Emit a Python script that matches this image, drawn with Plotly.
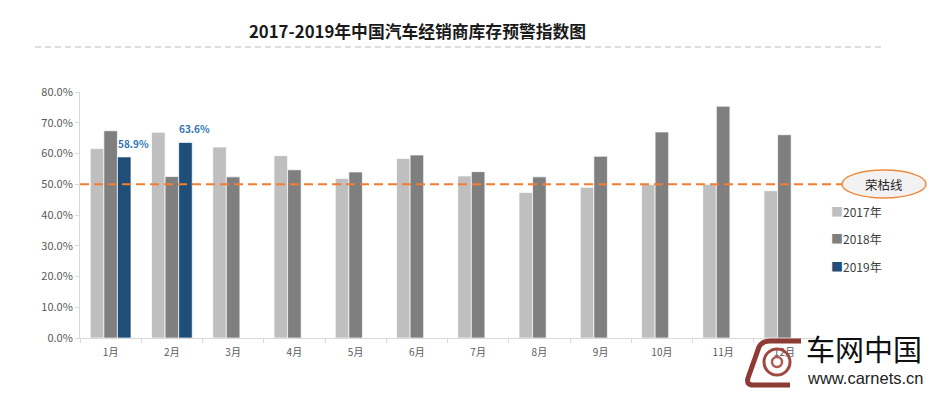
import plotly.graph_objects as go

months = ["1月", "2月", "3月", "4月", "5月", "6月", "7月", "8月", "9月", "10月", "11月", "12月"]
v2017 = [0.616, 0.669, 0.621, 0.593, 0.519, 0.584, 0.527, 0.473, 0.490, 0.499, 0.499, 0.479]
v2018 = [0.674, 0.525, 0.524, 0.547, 0.540, 0.595, 0.541, 0.524, 0.591, 0.670, 0.754, 0.661]
v2019 = [0.589, 0.636, None, None, None, None, None, None, None, None, None, None]
series_names = ["2017年", "2018年", "2019年"]
colors = ["#BFBFBF", "#7F7F7F", "#1F4E79"]
threshold = 0.5
threshold_label = "荣枯线"
title = "2017-2019年中国汽车经销商库存预警指数图"

FONT = "Noto Sans CJK SC, Microsoft YaHei, sans-serif"

# page body has an 8px margin; plot area on screen: x 80..815, y 92..338
W, H = 937, 393
OFF = 8
L, R, T, B = 80, 815, 92, 338


def px(x):
    return (x - L) / (R - L)


def py(y):
    return (B - y) / (B - T)


fig = go.Figure()
for i, (name, vals) in enumerate(zip(series_names, [v2017, v2018, v2019])):
    fig.add_trace(go.Bar(
        x=months, y=vals, name=name, showlegend=False,
        marker=dict(color=colors[i], line=dict(color="rgba(255,255,255,0.7)", width=1)),
    ))

# data labels for 2019
for m, v in zip(months, v2019):
    if v is not None:
        fig.add_annotation(x=m, y=v, xref="x", yref="y", text=f"<b>{v*100:.1f}%</b>", showarrow=False,
                           xanchor="center", yanchor="bottom", xshift=23, yshift=4,
                           font=dict(family=FONT, size=10, color="#2E75B6"))

fig.update_layout(
    width=W, height=H,
    margin=dict(l=L - OFF, r=W - R + OFF, t=T - OFF, b=H - B + OFF, autoexpand=False),
    paper_bgcolor="white", plot_bgcolor="white",
    barmode="group", bargap=0.335, bargroupgap=0,
    font=dict(family=FONT, size=11, color="#595959"),
    title=dict(text="<b>" + title + "</b>", x=(417.5 - OFF) / W, xanchor="center", y=1 - (32 - OFF) / H,
               yanchor="middle", font=dict(family=FONT, size=16.8, color="#1a1a1a")),
    showlegend=False,
)
fig.update_xaxes(showline=True, linecolor="#D9D9D9", linewidth=1, ticks="outside", tickson="boundaries",
                 tickcolor="#D9D9D9", ticklen=4, showgrid=False, ticklabelstandoff=5,
                 tickfont=dict(family=FONT, size=10, color="#595959"))
fig.update_yaxes(range=[0, 0.8], dtick=0.1, tickformat=".1%", showline=True, linecolor="#D9D9D9", linewidth=1,
                 ticks="outside", tickcolor="#D9D9D9", ticklen=4, showgrid=False, zeroline=False,
                 tickfont=dict(family=FONT, size=11, color="#595959"))

# threshold dashed line
fig.add_shape(type="line", xref="paper", yref="y", x0=0, x1=px(844), y0=threshold, y1=threshold,
              line=dict(color="#F47D30", width=2, dash="9px,5px"), layer="above")
# ellipse label
fig.add_shape(type="circle", xref="paper", yref="paper", x0=px(842), x1=px(926), y0=py(198), y1=py(170),
              line=dict(color="#F08A3C", width=1.5), fillcolor="#F2F2F2", layer="above")
fig.add_annotation(text=threshold_label, xref="paper", yref="y", x=px(884), y=threshold, showarrow=False,
                   xanchor="center", yanchor="middle",
                   font=dict(family=FONT, size=12.5, color="#262626"))
# title underline
fig.add_shape(type="line", xref="paper", yref="paper", x0=px(35), x1=px(885), y0=py(47), y1=py(47),
              line=dict(color="#BFBFBF", width=1.2, dash="6px,4px"))

# manual legend
for i, name in enumerate(series_names):
    yy = py(211 + i * 27.5)
    fig.add_annotation(text=f"<span style='color:{colors[i]}'>■</span>{name}", xref="paper", yref="paper",
                       x=px(829), y=yy, xanchor="left", yanchor="middle", showarrow=False,
                       font=dict(family=FONT, size=12, color="#404040"))

# watermark
fig.add_annotation(text="车网中国", xref="paper", yref="paper", x=px(805), y=py(348), xanchor="left",
                   yanchor="middle", showarrow=False, borderpad=0,
                   font=dict(family=FONT, size=29, color="#111111"))
fig.add_annotation(text="www.carnets.cn", xref="paper", yref="paper", x=px(806), y=py(378), xanchor="left",
                   yanchor="middle", showarrow=False, borderpad=0,
                   font=dict(family="Liberation Sans, Arial", size=16.5, color="#222222"))
# logo approximation
fig.add_shape(type="path", xref="paper", yref="paper",
              path=(f"M {px(801)} {py(341)} L {px(770)} {py(341)} Q {px(762)} {py(341)} {px(759)} {py(347)} "
                    f"L {px(748)} {py(378)} Q {px(746)} {py(385)} {px(753)} {py(385)} L {px(790)} {py(385)}"),
              line=dict(color="#8E3B36", width=5), fillcolor="rgba(0,0,0,0)")
fig.add_shape(type="circle", xref="paper", yref="paper", x0=px(764), x1=px(790), y0=py(375), y1=py(349),
              line=dict(color="#A04840", width=3), fillcolor="rgba(0,0,0,0)")
fig.add_shape(type="circle", xref="paper", yref="paper", x0=px(772), x1=px(782), y0=py(367), y1=py(357),
              line=dict(color="#B05A50", width=2.5), fillcolor="rgba(0,0,0,0)")

fig.write_html("out.html")
